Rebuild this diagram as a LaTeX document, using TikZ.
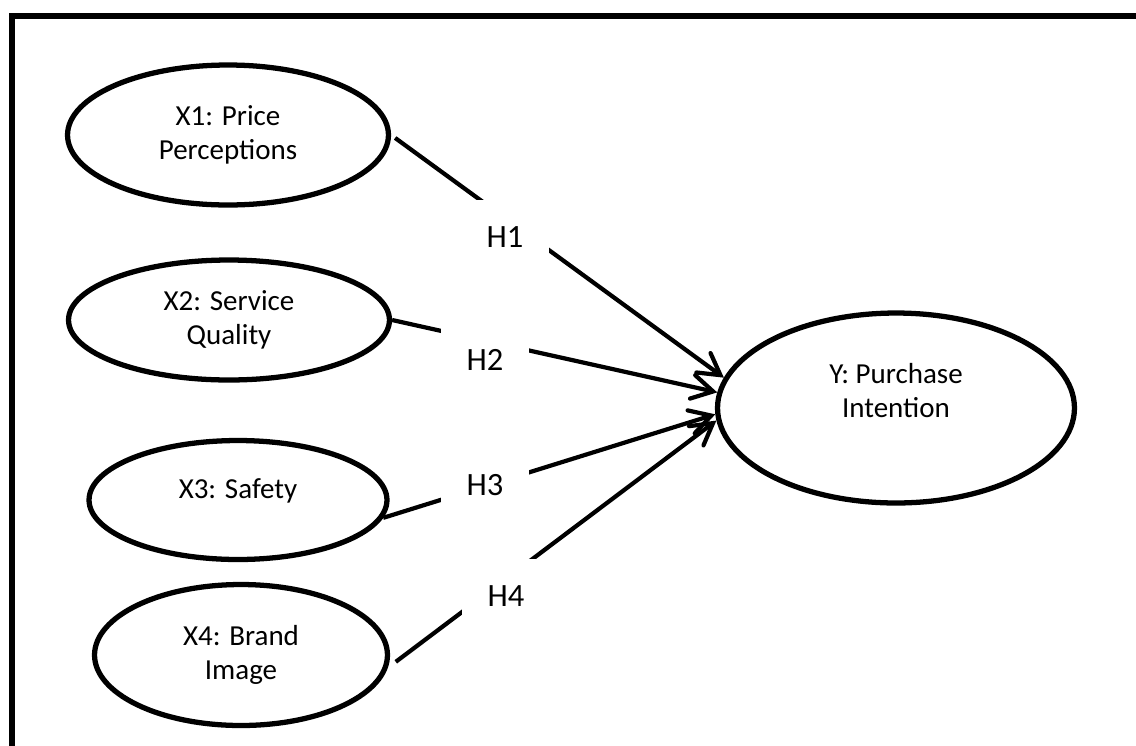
\documentclass[tikz,border=0pt]{standalone}
\usepackage{fontspec}
\setmainfont{Carlito}
\usepackage{tikz}
\usetikzlibrary{shapes.geometric,arrows.meta}

\begin{document}
\begin{tikzpicture}[x=0.02cm,y=-0.02cm,
    construct/.style={ellipse,draw,line width=3pt,inner sep=0pt,align=center,font=\fontsize{16.5}{19.5}\selectfont},
    hyp/.style={fill=white,inner sep=0pt,minimum width=1.75cm,minimum height=1.48cm,font=\fontsize{18.5}{21}\selectfont},
    effect/.style={line width=2.4pt,-{Straight Barb[length=0.42cm,width=0.48cm,line cap=round]}}]

    % page area and the outer frame
    \clip (0,0) rectangle (1136,745);
    \draw[line width=3.4pt] (1150,16) -- (12,16) -- (12,760);

    % independent variables
    \node[construct,minimum width=6.42cm,minimum height=2.8cm] (x1) at (228,135) {X1: Price\\Perceptions};
    \node[construct,minimum width=6.42cm,minimum height=2.4cm] (x2) at (229,320) {X2: Service\\Quality};
    \node[construct,minimum width=5.96cm,minimum height=2.38cm,text depth=0.45cm] (x3) at (238,500) {X3: Safety};
    \node[construct,minimum width=5.86cm,minimum height=2.82cm] (x4) at (241,655) {X4: Brand\\Image};

    % dependent variable
    \node[construct,minimum width=7.14cm,minimum height=3.8cm,text depth=0.7cm] (y) at (896,408) {Y: Purchase\\Intention};

    % hypotheses
    \draw[effect,shorten <=0.1cm] (x1.east) -- (y.170);
    \draw[effect] (x2.east) -- (y.175);
    \draw[effect] (x3.-7) -- (y.182);
    \draw[effect,shorten <=0.2cm] (x4.-5) -- (y.184);

    \node[hyp] (h1) at (505,237) {H1};
    \node[hyp] (h2) at (485,360) {H2};
    \node[hyp] (h3) at (485,485) {H3};
    \node[hyp] (h4) at (506,596) {H4};

\end{tikzpicture}
\end{document}
